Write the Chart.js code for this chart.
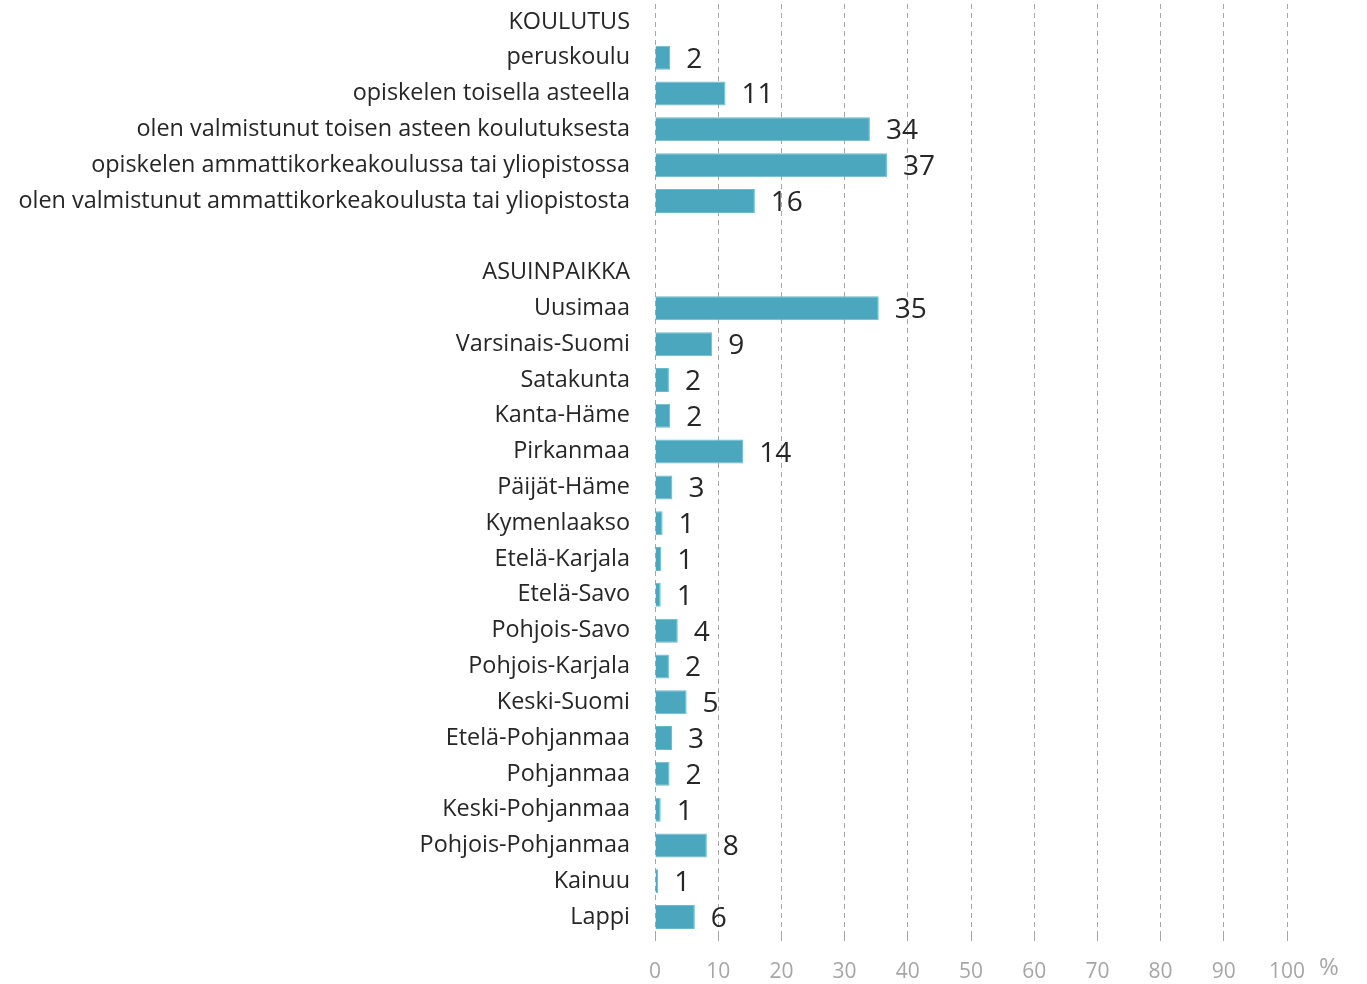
<!DOCTYPE html>
<html>
<head>
<meta charset="utf-8">
<script src="https://cdn.jsdelivr.net/npm/chart.js@4"></script>
<style>
  body { margin: 0; background: #fff; }
  #wrap { width: 1367px; height: 984px; }
</style>
</head>
<body>
<div id="wrap"><canvas id="kysely"></canvas></div>
<script>
// Categories (header rows and blank spacer have no value)
const categories = [
    'KOULUTUS', 'peruskoulu', 'opiskelen toisella asteella',
    'olen valmistunut toisen asteen koulutuksesta',
    'opiskelen ammattikorkeakoulussa tai yliopistossa',
    'olen valmistunut ammattikorkeakoulusta tai yliopistosta',
    '', 'ASUINPAIKKA', 'Uusimaa', 'Varsinais-Suomi', 'Satakunta', 'Kanta-Häme',
    'Pirkanmaa', 'Päijät-Häme', 'Kymenlaakso', 'Etelä-Karjala', 'Etelä-Savo',
    'Pohjois-Savo', 'Pohjois-Karjala', 'Keski-Suomi', 'Etelä-Pohjanmaa',
    'Pohjanmaa', 'Keski-Pohjanmaa', 'Pohjois-Pohjanmaa', 'Kainuu', 'Lappi'
];
const shares = [
    null, 2.4, 11.15, 34.0, 36.7, 15.8,
    null, null, 35.4, 9.05, 2.2, 2.4,
    13.95, 2.75, 1.2, 1.0, 0.9,
    3.6, 2.2, 5.0, 2.7,
    2.3, 0.9, 8.2, 0.5, 6.3
];
const xTicks = [0, 10, 20, 30, 40, 50, 60, 70, 80, 90, 100];

const FONT = 'Open Sans';

// value labels next to bar ends, plus the "%" unit after the axis
const barLabels = {
    id: 'barLabels',
    afterDatasetsDraw(chart) {
        const ctx = chart.ctx;
        const meta = chart.getDatasetMeta(0);
        ctx.save();
        ctx.font = '28px "' + FONT + '"';
        ctx.fillStyle = '#262626';
        ctx.textAlign = 'left';
        ctx.textBaseline = 'middle';
        meta.data.forEach((bar, i) => {
            const v = shares[i];
            if (v === null) return;
            ctx.fillText(String(Math.round(v)), bar.x + 16, bar.y + 2);
        });
        const xs = chart.scales.x;
        ctx.font = '24px "' + FONT + '"';
        ctx.fillStyle = '#a6a6a6';
        ctx.textAlign = 'center';
        ctx.fillText('%', xs.right + 42, xs.top + 33);
        ctx.restore();
    }
};

const ctx1 = document.getElementById('kysely').getContext('2d');
const kyselyChart = new Chart(ctx1, {
    type: 'bar',
    data: {
        labels: categories,
        datasets: [{
            data: shares,
            backgroundColor: '#4ba7bd',
            borderColor: '#6cb9cb',
            borderWidth: 1,
            categoryPercentage: 1,
            barPercentage: 0.67
        }]
    },
    options: {
        indexAxis: 'y',
        responsive: true,
        maintainAspectRatio: false,
        animation: false,
        layout: { padding: { top: 4, right: 80, bottom: 4, left: 0 } },
        plugins: { legend: { display: false }, tooltip: { enabled: false } },
        scales: {
            x: {
                min: 0,
                max: 100,
                afterBuildTicks: (axis) => { axis.ticks = xTicks.map(v => ({ value: v })); },
                afterFit: (scale) => { scale.height = 45; },
                grid: {
                    color: '#a6a6a6',
                    lineWidth: 1,
                    tickLength: 6,
                    drawTicks: true
                },
                border: { display: false, dash: [5, 4] },
                ticks: {
                    color: '#a6a6a6',
                    font: { family: FONT, size: 21 },
                    padding: 18
                }
            },
            y: {
                afterFit: (scale) => {
                    scale.width = 655;
                    scale.paddingTop = 0;
                    scale.paddingBottom = 0;
                },
                grid: { display: false, drawTicks: false },
                border: { display: false },
                ticks: {
                    color: '#262626',
                    font: { family: FONT, size: 23.4 },
                    padding: 25,
                    autoSkip: false
                }
            }
        }
    },
    plugins: [barLabels]
});
</script>
</body>
</html>
